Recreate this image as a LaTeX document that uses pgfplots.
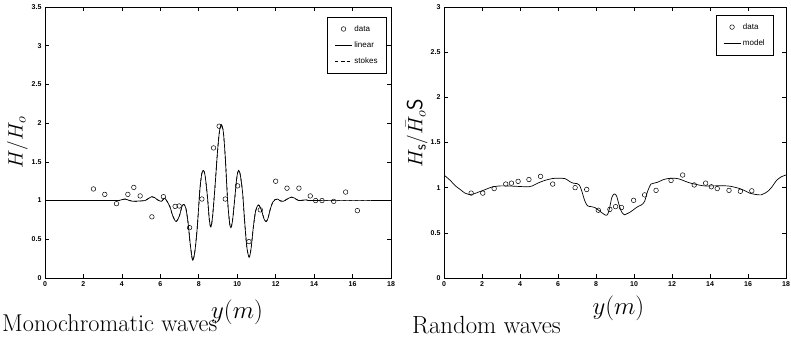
\documentclass[border=0pt]{standalone}
\usepackage{fontspec}
\usepackage{pgfplots}
\pgfplotsset{compat=1.18}
\newfontfamily\helv{Liberation Sans}

\pgfplotstableread{
x y
2.52 1.15
3.11 1.08
3.72 0.96
4.31 1.08
4.62 1.17
4.95 1.06
5.56 0.79
6.16 1.05
6.77 0.925
6.98 0.93
7.52 0.65
8.16 1.02
8.77 1.68
9.06 1.96
9.38 1.02
10.02 1.19
10.61 0.47
11.20 0.88
12.00 1.25
12.59 1.16
13.21 1.16
13.80 1.06
14.08 1.00
14.41 1.00
15.02 0.99
15.64 1.11
16.25 0.87
}\monodata

\pgfplotstableread{
x y
0 1.0
3.5 1.0
3.9 1.005
4.16 1.02
4.4 1.0
4.6 0.99
4.9 0.995
5.2 1.0
5.4 1.03
5.55 1.05
5.7 1.04
5.85 1.01
6.06 0.99
6.2 1.03
6.3 1.01
6.5 0.92
6.65 0.80
6.82 0.73
6.99 0.80
7.12 0.92
7.22 0.95
7.33 0.90
7.45 0.70
7.55 0.45
7.68 0.23
7.8 0.35
7.92 0.65
8.06 1.15
8.16 1.35
8.24 1.39
8.33 1.32
8.45 1.05
8.55 0.75
8.63 0.66
8.72 0.80
8.85 1.2
8.98 1.65
9.08 1.9
9.18 1.98
9.28 1.88
9.38 1.55
9.5 1.0
9.6 0.72
9.67 0.65
9.76 0.75
9.88 1.05
9.98 1.30
10.07 1.39
10.16 1.33
10.28 1.1
10.38 0.75
10.5 0.40
10.62 0.27
10.72 0.38
10.84 0.66
10.96 0.87
11.08 0.94
11.16 0.93
11.28 0.86
11.4 0.76
11.5 0.73
11.6 0.77
11.72 0.89
11.85 0.98
11.96 1.01
12.1 1.02
12.25 0.995
12.4 0.99
12.6 1.02
12.83 1.045
13.0 1.03
13.2 1.0
13.6 1.01
14 1.0
18 1.0
}\monolin

\pgfplotstableread{
x y
1.43 0.94
2.04 0.94
2.64 0.99
3.25 1.04
3.55 1.05
3.90 1.07
4.47 1.09
5.08 1.125
5.72 1.04
6.90 1.00
7.51 0.98
8.12 0.75
8.73 0.76
9.03 0.79
9.34 0.78
9.98 0.86
10.56 0.92
11.16 0.97
11.95 1.08
12.56 1.14
13.17 1.03
13.77 1.05
14.07 1.01
14.38 0.99
15.00 0.97
15.60 0.96
16.20 0.965
}\randdata

\pgfplotstableread{
x y
0 1.14
0.33 1.08
0.6 1.02
0.85 0.98
1.1 0.94
1.3 0.925
1.55 0.93
1.8 0.95
2.06 0.97
2.3 0.99
2.58 1.01
3.0 1.02
3.27 1.02
3.8 1.015
4.47 1.01
4.75 1.03
4.99 1.055
5.3 1.08
5.68 1.10
6.0 1.105
6.37 1.10
6.6 1.07
6.8 1.05
7.0 1.045
7.12 1.03
7.24 0.97
7.4 0.86
7.55 0.80
7.75 0.79
7.94 0.78
8.2 0.74
8.46 0.70
8.6 0.70
8.72 0.78
8.83 0.89
8.95 0.93
9.08 0.91
9.2 0.82
9.35 0.73
9.5 0.70
9.62 0.71
9.8 0.73
10.0 0.76
10.2 0.79
10.4 0.81
10.56 0.85
10.7 0.95
10.89 1.04
11.05 1.05
11.24 1.06
11.5 1.085
11.76 1.10
12.1 1.105
12.4 1.095
12.7 1.07
12.98 1.05
13.3 1.035
13.66 1.02
14.2 1.02
14.87 1.02
15.2 1.01
15.56 0.99
15.8 0.97
16.08 0.94
16.4 0.925
16.69 0.92
16.9 0.94
17.1 0.97
17.3 1.02
17.5 1.08
17.75 1.12
18 1.14
}\randmodel

\begin{document}
\begin{tikzpicture}
\useasboundingbox (0,0) rectangle (791pt,340pt);
\pgfplotsset{
  myaxis/.style={
    scale only axis,
    height=271pt,
    xmin=0, xmax=18,
    xtick={0,2,...,18},
    tick align=inside,
    xtick pos=both, ytick pos=both,
    axis line style={line width=0.6pt},
    every tick/.style={black, line width=0.6pt},
    major tick length=4pt,
    /pgf/number format/assume math mode=true,
    ticklabel style={font=\helv\bfseries\fontsize{7}{8}\selectfont},
    label style={font=\fontsize{25}{28}\selectfont},
    legend style={font=\helv\fontsize{8}{9}\selectfont, draw=black, line width=0.6pt,
      row sep=5pt, inner xsep=7pt, inner ysep=6pt, cells={anchor=west}},
    legend cell align=left,
  }
}
\begin{axis}[myaxis,
  at={(45pt,62pt)}, anchor=south west,
  width=346pt,
  ymin=0, ymax=3.5,
  ytick={0,0.5,...,3.5},
  xlabel={$y(m)$},
  xlabel style={at={(axis description cs:0.555,0)}, anchor=base, yshift=-40pt},
  ylabel={$H/H_o$},
  ylabel style={at={(axis description cs:-0.08,0.5)}, anchor=center, font=\fontsize{22}{24}\selectfont},
  legend style={at={(rel axis cs:0.988,0.963)}, anchor=north east},
]
\addplot[only marks, mark=o, mark size=2.3pt, line width=0.5pt] table[x=x,y=y] {\monodata};
\addlegendentry{data}
\addplot[smooth, line width=0.7pt, black] table[x=x,y=y] {\monolin};
\addlegendentry{linear}
\addplot[smooth, dashed, line width=0.7pt, black] table[x=x,y=y] {\monolin};
\addlegendentry{stokes}
\end{axis}

\begin{axis}[myaxis,
  at={(444pt,62pt)}, anchor=south west,
  width=342pt,
  ymin=0, ymax=3,
  ytick={0,0.5,...,3},
  xlabel={$y(m)$},
  xlabel style={at={(axis description cs:0.51,0)}, anchor=base, yshift=-36pt},
  ylabel={$H_{\mathsf{s}}/\bar{H}_o\mathsf{S}$},
  ylabel style={at={(axis description cs:-0.08,0.535)}, anchor=center, font=\fontsize{22}{24}\selectfont},
  legend style={at={(rel axis cs:0.965,0.970)}, anchor=north east},
]
\addplot[only marks, mark=o, mark size=2.3pt, line width=0.5pt] table[x=x,y=y] {\randdata};
\addlegendentry{data}
\addplot[smooth, line width=0.7pt, black] table[x=x,y=y] {\randmodel};
\addlegendentry{model}
\end{axis}

\node[anchor=base west, inner sep=0pt, font=\fontsize{24.3}{28}\selectfont] at (2pt,9pt) {Monochromatic waves};
\node[anchor=base west, inner sep=0pt, font=\fontsize{24.8}{28}\selectfont] at (412pt,7pt) {Random waves};
\end{tikzpicture}
\end{document}
